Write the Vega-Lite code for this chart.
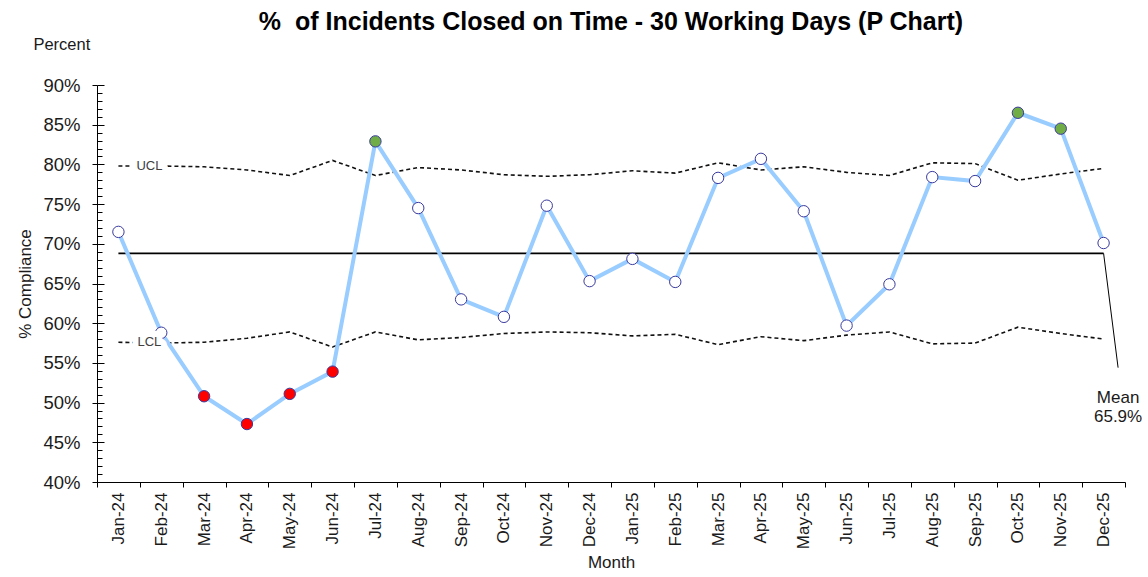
{
  "$schema": "https://vega.github.io/schema/vega-lite/v6.json",
  "autosize": {"type": "none"},
  "width": 1028,
  "height": 397,
  "padding": {"left": 97, "top": 85, "right": 23, "bottom": 95},
  "background": "white",
  "title": {
    "text": "%\u00a0 of Incidents Closed on Time - 30 Working Days (P Chart)",
    "anchor": "middle",
    "baseline": "alphabetic",
    "offset": 6,
    "dy": 24,
    "font": "Liberation Sans",
    "fontSize": 25,
    "fontWeight": "bold",
    "color": "#000000"
  },
  "config": {"view": {"stroke": null}, "font": "Liberation Sans"},
  "datasets": {
    "pct": [
      {"month": "Jan-24", "v": 71.5, "status": "normal"},
      {"month": "Feb-24", "v": 58.8, "status": "normal"},
      {"month": "Mar-24", "v": 50.8, "status": "low"},
      {"month": "Apr-24", "v": 47.3, "status": "low"},
      {"month": "May-24", "v": 51.1, "status": "low"},
      {"month": "Jun-24", "v": 53.9, "status": "low"},
      {"month": "Jul-24", "v": 82.9, "status": "high"},
      {"month": "Aug-24", "v": 74.5, "status": "normal"},
      {"month": "Sep-24", "v": 63.0, "status": "normal"},
      {"month": "Oct-24", "v": 60.8, "status": "normal"},
      {"month": "Nov-24", "v": 74.8, "status": "normal"},
      {"month": "Dec-24", "v": 65.3, "status": "normal"},
      {"month": "Jan-25", "v": 68.1, "status": "normal"},
      {"month": "Feb-25", "v": 65.2, "status": "normal"},
      {"month": "Mar-25", "v": 78.3, "status": "normal"},
      {"month": "Apr-25", "v": 80.7, "status": "normal"},
      {"month": "May-25", "v": 74.1, "status": "normal"},
      {"month": "Jun-25", "v": 59.7, "status": "normal"},
      {"month": "Jul-25", "v": 64.9, "status": "normal"},
      {"month": "Aug-25", "v": 78.4, "status": "normal"},
      {"month": "Sep-25", "v": 77.9, "status": "normal"},
      {"month": "Oct-25", "v": 86.5, "status": "high"},
      {"month": "Nov-25", "v": 84.5, "status": "high"},
      {"month": "Dec-25", "v": 70.1, "status": "normal"}
    ],
    "ucl": [
      {"month": "Jan-24", "v": 79.8}, {"month": "Feb-24", "v": 79.8}, {"month": "Mar-24", "v": 79.7},
      {"month": "Apr-24", "v": 79.3}, {"month": "May-24", "v": 78.6}, {"month": "Jun-24", "v": 80.5},
      {"month": "Jul-24", "v": 78.6}, {"month": "Aug-24", "v": 79.6}, {"month": "Sep-24", "v": 79.3},
      {"month": "Oct-24", "v": 78.7}, {"month": "Nov-24", "v": 78.5}, {"month": "Dec-24", "v": 78.7},
      {"month": "Jan-25", "v": 79.2}, {"month": "Feb-25", "v": 78.9}, {"month": "Mar-25", "v": 80.2},
      {"month": "Apr-25", "v": 79.3}, {"month": "May-25", "v": 79.7}, {"month": "Jun-25", "v": 79.0},
      {"month": "Jul-25", "v": 78.6}, {"month": "Aug-25", "v": 80.2}, {"month": "Sep-25", "v": 80.1},
      {"month": "Oct-25", "v": 78.0}, {"month": "Nov-25", "v": 78.8}, {"month": "Dec-25", "v": 79.5}
    ],
    "lcl": [
      {"month": "Jan-24", "v": 57.6}, {"month": "Feb-24", "v": 57.5}, {"month": "Mar-24", "v": 57.6},
      {"month": "Apr-24", "v": 58.1}, {"month": "May-24", "v": 58.9}, {"month": "Jun-24", "v": 57.0},
      {"month": "Jul-24", "v": 58.9}, {"month": "Aug-24", "v": 57.9}, {"month": "Sep-24", "v": 58.2},
      {"month": "Oct-24", "v": 58.7}, {"month": "Nov-24", "v": 58.9}, {"month": "Dec-24", "v": 58.8},
      {"month": "Jan-25", "v": 58.4}, {"month": "Feb-25", "v": 58.6}, {"month": "Mar-25", "v": 57.3},
      {"month": "Apr-25", "v": 58.3}, {"month": "May-25", "v": 57.8}, {"month": "Jun-25", "v": 58.5},
      {"month": "Jul-25", "v": 58.9}, {"month": "Aug-25", "v": 57.4}, {"month": "Sep-25", "v": 57.5},
      {"month": "Oct-25", "v": 59.5}, {"month": "Nov-25", "v": 58.7}, {"month": "Dec-25", "v": 58.0}
    ],
    "meanLine": [
      {"month": "Jan-24", "v": 68.8},
      {"month": "Dec-25", "v": 68.8}
    ],
    "leader": [
      {"month": "Dec-25", "v": 68.8, "v2": 54.4}
    ],
    "meanNote": [
      {"month": "Dec-25", "label": "Mean", "v": 49.9},
      {"month": "Dec-25", "label": "65.9%", "v": 47.6}
    ],
    "limitNote": [
      {"month": "Jan-24", "label": "UCL", "v": 79.8},
      {"month": "Jan-24", "label": "LCL", "v": 57.6}
    ],
    "unitNote": [
      {"month": "Jan-24", "label": "Percent", "v": 94.4}
    ]
  },
  "encoding": {
    "x": {
      "field": "month",
      "type": "ordinal",
      "scale": {
        "type": "band",
        "paddingInner": 0,
        "paddingOuter": 0,
        "domain": ["Jan-24","Feb-24","Mar-24","Apr-24","May-24","Jun-24","Jul-24","Aug-24","Sep-24","Oct-24","Nov-24","Dec-24","Jan-25","Feb-25","Mar-25","Apr-25","May-25","Jun-25","Jul-25","Aug-25","Sep-25","Oct-25","Nov-25","Dec-25"]
      },
      "axis": {
        "title": "Month",
        "labelAngle": 270,
        "labelFont": "Liberation Sans",
        "labelFontSize": 17,
        "labelColor": "#1a1a1a",
        "labelPadding": 5,
        "tickBand": "extent",
        "tickSize": 5,
        "tickColor": "#000000",
        "domainColor": "#000000",
        "titleFont": "Liberation Sans",
        "titleFontSize": 17,
        "titleFontWeight": "normal",
        "titleColor": "#1a1a1a",
        "titlePadding": 6
      }
    },
    "y": {
      "field": "v",
      "type": "quantitative",
      "scale": {"domain": [40, 90], "nice": false, "zero": false},
      "axis": {
        "title": "% Compliance",
        "values": [40,41,42,43,44,45,46,47,48,49,50,51,52,53,54,55,56,57,58,59,60,61,62,63,64,65,66,67,68,69,70,71,72,73,74,75,76,77,78,79,80,81,82,83,84,85,86,87,88,89,90],
        "labelExpr": "datum.value % 5 === 0 ? datum.value + '%' : ''",
        "labelOverlap": false,
        "labelFont": "Liberation Sans",
        "labelFontSize": 18.5,
        "labelColor": "#1a1a1a",
        "labelPadding": 12,
        "tickSize": 5,
        "tickColor": "#000000",
        "tickOpacity": {"condition": {"test": "datum.value % 5 === 0", "value": 1}, "value": 0},
        "domainColor": "#000000",
        "grid": true,
        "gridColor": "#000000",
        "gridWidth": 1,
        "gridDash": {"condition": {"test": "datum.value % 5 === 0", "value": [7, 3000]}, "value": [5, 3000]},
        "titleFont": "Liberation Sans",
        "titleFontSize": 17,
        "titleFontWeight": "normal",
        "titleColor": "#1a1a1a",
        "titlePadding": 8
      }
    }
  },
  "layer": [
    {
      "data": {"name": "meanLine"},
      "mark": {"type": "line", "color": "#000000", "strokeWidth": 1.6}
    },
    {
      "data": {"name": "ucl"},
      "mark": {"type": "line", "color": "#111111", "strokeWidth": 1.6, "strokeDash": [4, 3]}
    },
    {
      "data": {"name": "lcl"},
      "mark": {"type": "line", "color": "#111111", "strokeWidth": 1.6, "strokeDash": [4, 3]}
    },
    {
      "data": {"name": "pct"},
      "mark": {"type": "line", "color": "#99ccff", "strokeWidth": 4}
    },
    {
      "data": {"name": "pct"},
      "mark": {"type": "point", "shape": "circle", "filled": true, "size": 130, "stroke": "#3a3a9e", "strokeWidth": 1, "opacity": 1},
      "encoding": {
        "fill": {
          "field": "status",
          "type": "nominal",
          "scale": {"domain": ["normal", "low", "high"], "range": ["#ffffff", "#ff0000", "#70ad47"]},
          "legend": null
        }
      }
    },
    {
      "data": {"name": "leader"},
      "mark": {"type": "rule", "color": "#000000", "strokeWidth": 1, "x2Offset": 14.5},
      "encoding": {
        "x2": {"field": "month"},
        "y2": {"field": "v2"}
      }
    },
    {
      "data": {"name": "meanNote"},
      "mark": {"type": "text", "align": "center", "baseline": "alphabetic", "dx": 14.5, "fontSize": 17, "color": "#1a1a1a", "font": "Liberation Sans"},
      "encoding": {"text": {"field": "label", "type": "nominal"}}
    },
    {
      "data": {"name": "limitNote"},
      "mark": {"type": "text", "align": "center", "baseline": "middle", "dx": 31, "fontSize": 13, "color": "#ffffff", "stroke": "#ffffff", "strokeWidth": 12, "strokeJoin": "round", "font": "Liberation Sans"},
      "encoding": {"text": {"field": "label", "type": "nominal"}}
    },
    {
      "data": {"name": "limitNote"},
      "mark": {"type": "text", "align": "center", "baseline": "middle", "dx": 31, "fontSize": 13, "color": "#404040", "font": "Liberation Sans"},
      "encoding": {"text": {"field": "label", "type": "nominal"}}
    },
    {
      "data": {"name": "unitNote"},
      "mark": {"type": "text", "align": "left", "baseline": "alphabetic", "dx": -85, "fontSize": 16.5, "color": "#1a1a1a", "font": "Liberation Sans"},
      "encoding": {"text": {"field": "label", "type": "nominal"}}
    }
  ]
}
